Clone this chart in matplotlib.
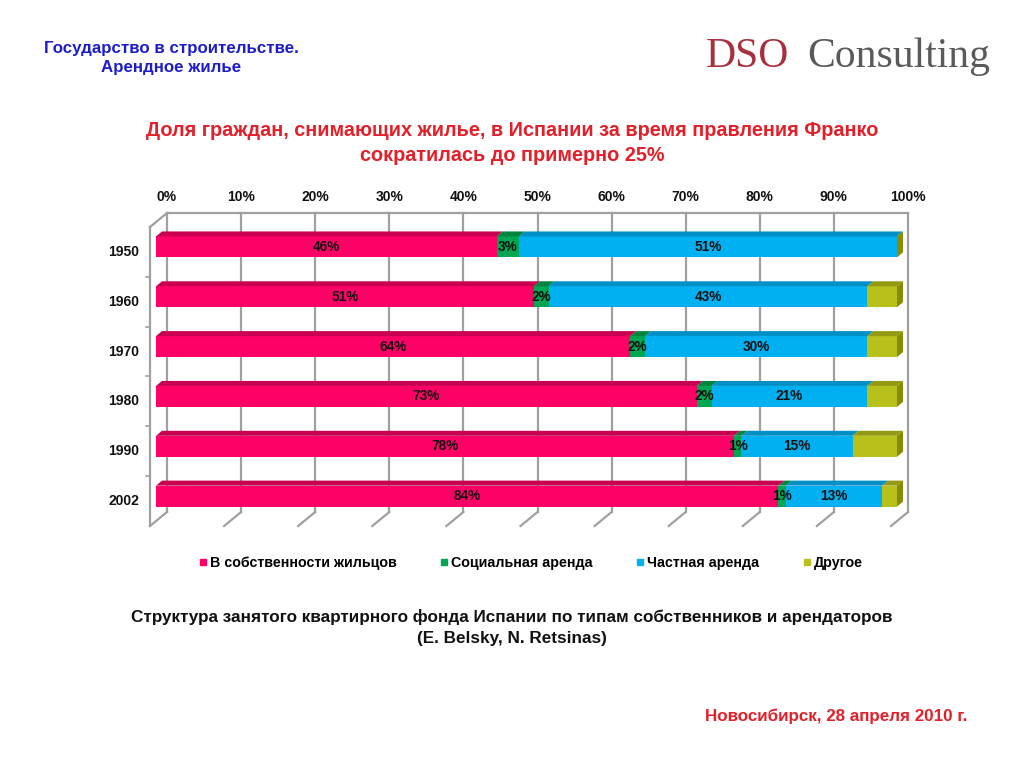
import matplotlib
matplotlib.use('Agg')
import matplotlib.pyplot as plt
import matplotlib.transforms as mtransforms
from matplotlib.patches import Polygon
from matplotlib.lines import Line2D
import numpy as np

plt.rcParams['font.family'] = ['Liberation Sans', 'DejaVu Sans']

# ---------------- data ----------------
years = ['1950', '1960', '1970', '1980', '1990', '2002']
owner = [46, 51, 64, 73, 78, 84]
social = [3, 2, 2, 2, 1, 1]
private = [51, 43, 30, 21, 15, 13]
other = [0, 4, 4, 4, 6, 2]
series_names = ['В собственности жильцов', 'Социальная аренда', 'Частная аренда', 'Другое']
xticks = [0, 10, 20, 30, 40, 50, 60, 70, 80, 90, 100]
xtick_labels = ['0%', '10%', '20%', '30%', '40%', '50%', '60%', '70%', '80%', '90%', '100%']

title_top = 'Государство в строительстве.\nАрендное жилье'
main_title = 'Доля граждан, снимающих жилье, в Испании за время правления Франко\nсократилась до примерно 25%'
caption = 'Структура занятого квартирного фонда Испании по типам собственников и арендаторов\n(E. Belsky, N. Retsinas)'
footer = 'Новосибирск, 28 апреля 2010 г.'

# ---------------- style ----------------
front_cols = ['#FF0066', '#00A651', '#00B0F0', '#B8C01C']
top_cols = ['#C8004F', '#00843F', '#0090C6', '#939A12']
side_col = '#878C00'
grid_col = '#A0A0A0'

W, H = 1024, 768
fig = plt.figure(figsize=(W / 100, H / 100), dpi=100)
ax = fig.add_axes([156 / W, 1 - 521 / H, 741 / W, 299 / H])
ax.set_xlim(0, 100)
ax.set_ylim(5.5, -0.5)
ax.set_axis_off()

ident = mtransforms.IdentityTransform()
def off(dx, dy):
    return mtransforms.ScaledTranslation(dx / 100, dy / 100, fig.dpi_scale_trans)

back = off(11, 9)
wall_front = off(-6, -5)
blend = mtransforms.blended_transform_factory(ax.transData, ax.transAxes)

# back wall gridlines
for v in xticks:
    ax.plot([v, v], [0, 1], transform=blend + back, color=grid_col, lw=1.6,
            zorder=1, clip_on=False)
    p0 = (blend + back).transform((v, 0))
    p1 = (blend + wall_front).transform((v, 0))
    fig.add_artist(Line2D([p0[0], p1[0]], [p0[1], p1[1]], transform=ident,
                          color=grid_col, lw=1.6, zorder=1))
# top edge of back wall
ax.plot([0, 100], [1, 1], transform=blend + back, color=grid_col, lw=1.6, clip_on=False, zorder=1)
# left wall
ax.plot([0, 0], [0, 1], transform=blend + wall_front, color=grid_col, lw=1.6, clip_on=False, zorder=1)
p0 = (blend + back).transform((0, 1))
p1 = (blend + wall_front).transform((0, 1))
fig.add_artist(Line2D([p0[0], p1[0]], [p0[1], p1[1]], transform=ident, color=grid_col, lw=1.6))
# small ticks on the left wall
for b in np.arange(0.5, len(years) - 0.5, 1.0):
    p = (ax.transData + wall_front).transform((0, b))
    fig.add_artist(Line2D([p[0] - 4, p[0]], [p[1], p[1]], transform=ident, color=grid_col, lw=1.2))

# ---------------- bars ----------------
series = [owner, social, private, other]
bar_h = 0.42
dx, dy = 6, 5
ypos = np.arange(len(years))
lefts = np.zeros(len(years))
for k, vals in enumerate(series):
    vals = np.array(vals, dtype=float)
    ax.barh(ypos, vals, left=lefts, height=bar_h, color=front_cols[k],
            edgecolor='none', zorder=3)
    for i in range(len(years)):
        x0, x1 = lefts[i], lefts[i] + vals[i]
        a = ax.transData.transform((x0, ypos[i] - bar_h / 2))
        b = ax.transData.transform((x1, ypos[i] - bar_h / 2))
        poly = Polygon([a, b, (b[0] + dx, b[1] + dy), (a[0] + dx, a[1] + dy)],
                       closed=True, transform=ident, facecolor=top_cols[k],
                       edgecolor='none', zorder=3, clip_on=False)
        ax.add_patch(poly)
        if k < 3:
            ax.text((x0 + x1) / 2, ypos[i], f'{int(vals[i])}%', ha='center', va='center',
                    fontsize=9.8, fontweight='bold', color='#111111', zorder=6)
    lefts = lefts + vals

# right side faces
for i in range(len(years)):
    t = ax.transData.transform((lefts[i], ypos[i] - bar_h / 2))
    bt = ax.transData.transform((lefts[i], ypos[i] + bar_h / 2))
    poly = Polygon([bt, t, (t[0] + dx, t[1] + dy), (bt[0] + dx, bt[1] + dy)],
                   closed=True, transform=ident, facecolor=side_col, edgecolor='none',
                   zorder=3, clip_on=False)
    ax.add_patch(poly)

# axis labels
for v, lbl in zip(xticks, xtick_labels):
    ax.text(v, 1, lbl, transform=blend + back + off(0, 9), ha='center', va='bottom',
            fontsize=10, fontweight='bold', color='#111111', clip_on=False)
for i, yr in enumerate(years):
    ax.text(0, i, yr, transform=ax.transData + off(-17, -5), ha='right', va='center',
            fontsize=10, fontweight='bold', color='#111111', clip_on=False)

# legend
handles = [Line2D([], [], marker='s', linestyle='none', markersize=5,
                  markerfacecolor=c, markeredgecolor=c) for c in front_cols]
fig.legend(handles, series_names, loc='center', bbox_to_anchor=(531 / W, 1 - 563 / H),
           ncol=4, frameon=False, prop={'weight': 'bold', 'size': 10.3},
           handlelength=0.5, handletextpad=0.25, columnspacing=3.05)

# texts
fig.text(171 / W, 1 - 58 / H, title_top, ha='center', va='center', fontsize=12.2,
         fontweight='bold', color='#1E1EC8', linespacing=1.33)
fig.text(706 / W, 1 - 67 / H, 'DSO', ha='left', va='baseline', fontsize=30,
         family='Liberation Serif', color='#A8303E')
fig.text(807 / W, 1 - 67 / H, 'Consulting', ha='left', va='baseline', fontsize=30,
         family='Liberation Serif', color='#5A5A5A')
fig.text(512 / W, 1 - 143 / H, main_title, ha='center', va='center', fontsize=14.3,
         fontweight='bold', color='#E3202A', linespacing=1.36)
fig.text(512 / W, 1 - 627.5 / H, caption, ha='center', va='center', fontsize=12.3,
         fontweight='bold', color='#111111', linespacing=1.42)
fig.text(967 / W, 1 - 716 / H, footer, ha='right', va='center', fontsize=12.25,
         fontweight='bold', color='#E3202A')

fig.savefig('out.png', dpi=100, facecolor='white')
